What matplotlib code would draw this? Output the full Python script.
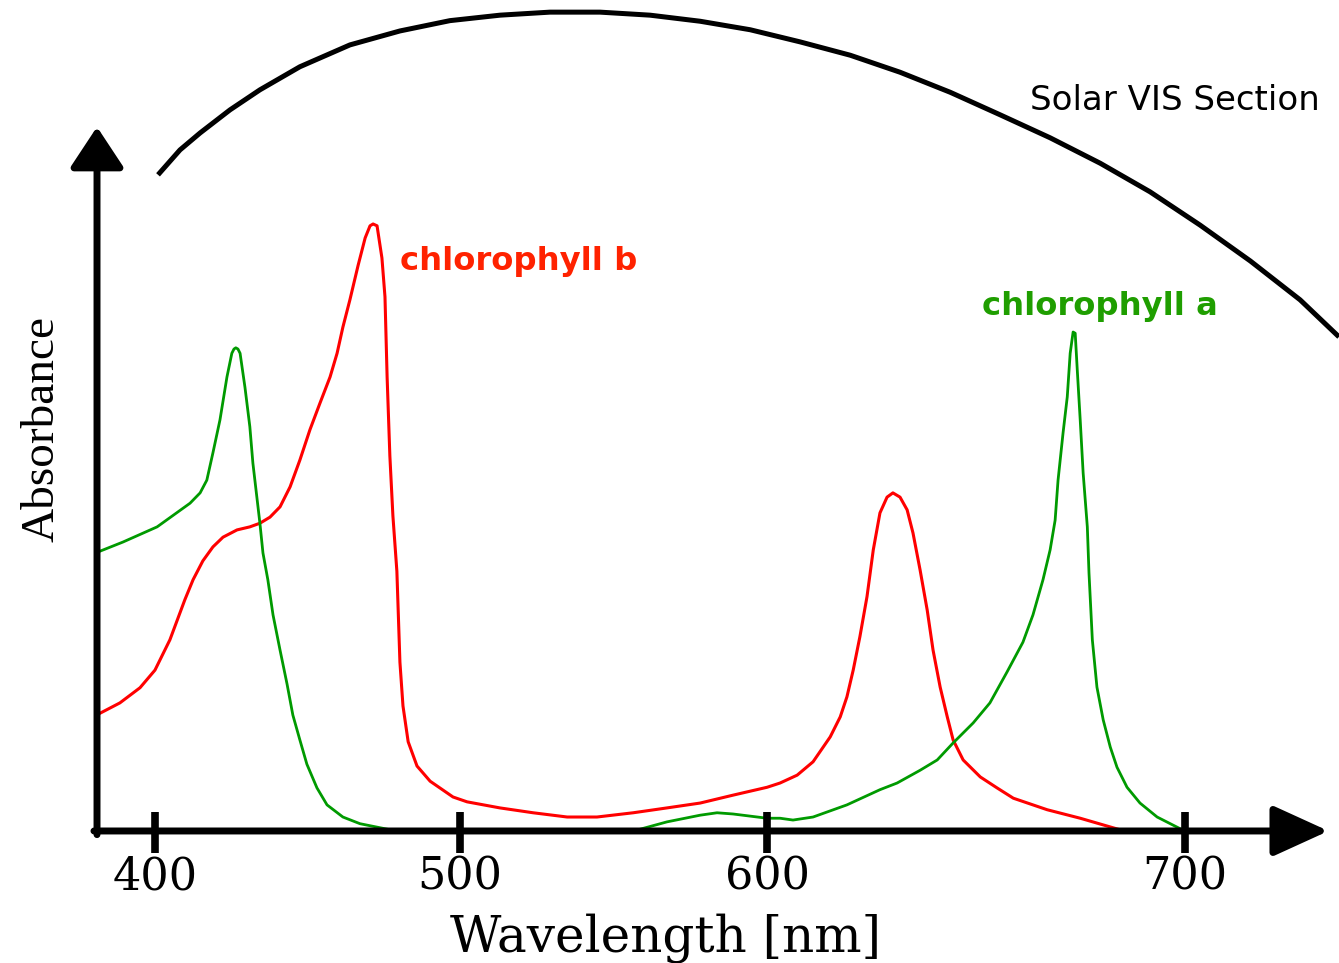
import numpy as np
import matplotlib
matplotlib.use('Agg')
import matplotlib.pyplot as plt

# wavelength in nm, absorbance relative to the chlorophyll b blue peak (=100)
chl_a_blue_wl = [382.0, 389.5, 400.7, 411.5, 414.8, 417.0, 419.0, 421.3, 423.6, 425.2,
                 425.9, 426.5, 427.2, 427.9, 429.5, 431.1, 432.1, 433.4, 434.4, 435.4,
                 437.0, 438.7, 441.0, 443.3, 445.2, 447.5, 449.8, 453.1, 456.4, 461.6,
                 467.2, 476.1]
chl_a_blue_abs = [46.1, 47.6, 50.1, 54.0, 55.7, 57.8, 62.3, 67.7, 74.8, 78.7,
                  79.4, 79.6, 79.4, 78.7, 73.1, 66.6, 60.6, 55.0, 50.7, 45.8,
                  41.4, 35.6, 29.8, 24.2, 19.1, 15.0, 11.0, 7.1, 4.3, 2.3,
                  1.2, 0.3]

chl_a_red_wl = [558.0, 567.4, 578.2, 583.7, 588.9, 600.0, 603.1, 606.2, 611.0, 619.1,
                627.0, 631.1, 636.6, 640.7, 644.5, 649.3, 653.3, 657.4, 661.2, 663.6,
                666.0, 667.7, 668.9, 669.6, 670.8, 671.8, 672.5, 673.2, 673.7, 674.2,
                674.9, 675.6, 676.6, 677.0, 677.8, 678.9, 680.4, 682.1, 683.7, 686.1,
                689.2, 693.3, 699.3]
chl_a_red_abs = [0.2, 1.5, 2.6, 3.0, 2.8, 2.1, 2.1, 1.8, 2.3, 4.3,
                 6.8, 7.9, 10.0, 11.7, 14.5, 17.8, 21.1, 26.2, 31.1, 35.6,
                 41.4, 46.3, 51.2, 57.8, 65.6, 71.5, 78.7, 82.2, 82.0, 75.9,
                 67.7, 59.0, 50.1, 42.5, 31.5, 23.7, 18.3, 13.8, 10.5, 7.2,
                 4.6, 2.3, 0.2]

chl_b_wl = [382.0, 388.5, 395.1, 400.0, 404.9, 409.8, 412.5, 415.7, 419.0, 422.3,
            426.9, 431.1, 434.4, 437.7, 441.0, 444.3, 447.5, 450.8, 454.1, 457.4,
            459.7, 461.6, 463.9, 466.6, 468.9, 470.5, 471.5, 472.8, 474.4, 475.4,
            476.1, 477.0, 478.0, 479.3, 480.3, 481.3, 483.0, 485.9, 490.2, 497.7,
            502.3, 513.0, 523.8, 534.9, 544.6, 556.4, 567.4, 578.2, 588.9, 600.0,
            603.1, 607.2, 611.0, 615.1, 617.5, 619.1, 620.6, 622.2, 623.9, 625.4,
            627.0, 628.7, 630.1, 631.8, 633.5, 634.9, 636.6, 638.3, 639.7, 641.4,
            643.1, 644.5, 646.9, 651.0, 655.0, 658.9, 667.0, 674.9, 684.4]
chl_b_abs = [19.4, 21.1, 23.6, 26.5, 31.5, 38.1, 41.4, 44.5, 46.8, 48.4,
             49.6, 50.1, 50.7, 51.7, 53.4, 56.7, 61.1, 66.1, 70.5, 74.8,
             78.7, 83.0, 87.5, 93.2, 97.7, 99.7, 100.0, 99.7, 94.4, 88.0,
             74.8, 61.8, 51.9, 42.8, 27.8, 20.6, 14.7, 10.7, 8.2, 5.6,
             4.8, 3.8, 3.0, 2.3, 2.3, 3.0, 3.8, 4.6, 5.9, 7.2,
             7.9, 9.2, 11.4, 15.5, 18.8, 22.1, 26.5, 32.0, 38.6, 46.3,
             52.4, 55.0, 55.7, 55.0, 52.9, 49.1, 43.0, 36.4, 29.8, 23.7,
             18.8, 15.0, 11.7, 8.9, 7.1, 5.4, 3.5, 2.1, 0.2]

# sketch of the solar spectrum, same vertical units
solar_wl = [401.0, 408.2, 414.8, 424.6, 434.4, 447.5, 463.9, 480.3, 496.7, 513.0,
            529.3, 545.6, 561.9, 578.2, 594.5, 607.9, 619.9, 631.8, 643.8, 655.7,
            667.7, 679.7, 691.6, 703.6, 715.6, 727.5, 736.8]
solar_level = [108.1, 112.2, 115.0, 118.8, 122.1, 125.9, 129.5, 131.8, 133.5, 134.4,
               134.9, 134.9, 134.4, 133.4, 132.0, 130.0, 127.8, 125.0, 121.7, 118.0,
               114.2, 110.0, 105.3, 99.8, 93.9, 87.5, 81.4]

tick_wl = [400, 500, 600, 700]

# the hand drawn axis is not linear, 600-700 is wider than the rest
scale_wl = [300, 400, 500, 600, 700, 800]
scale_pos = [-305, 0, 305, 612, 1030, 1448]


def fwd(x):
    return np.interp(x, scale_wl, scale_pos)


def inv(u):
    return np.interp(u, scale_pos, scale_wl)


RED = '#ff0000'
GREEN = '#009a00'

fig = plt.figure(figsize=(13.39, 9.63), dpi=100)
ax = fig.add_axes([0, 0, 1, 1])
ax.set_xscale('function', functions=(fwd, inv))
ax.set_xlim(349.2, 736.8)
ax.set_ylim(-21.75, 136.9)
ax.axis('off')

# curves
ax.plot(chl_b_wl, chl_b_abs, color=RED, lw=2.2, solid_joinstyle='round')
ax.plot(chl_a_blue_wl, chl_a_blue_abs, color=GREEN, lw=2.0, solid_joinstyle='round')
ax.plot(chl_a_red_wl, chl_a_red_abs, color=GREEN, lw=2.0, solid_joinstyle='round')
ax.plot(solar_wl, solar_level, color='black', lw=3.6, clip_on=False,
        solid_capstyle='butt', solid_joinstyle='round')

# axes with arrow heads
ax.annotate('', xy=(381.0, 116.0), xytext=(381.0, -0.6),
            arrowprops=dict(arrowstyle='-|>,head_length=2.5,head_width=1.65',
                            mutation_scale=10, lw=5, color='black',
                            shrinkA=0, shrinkB=0))
ax.annotate('', xy=(734.3, 0), xytext=(380.0, 0),
            arrowprops=dict(arrowstyle='-|>,head_length=3.4,head_width=1.55',
                            mutation_scale=10, lw=5, color='black',
                            shrinkA=0, shrinkB=0))

# ticks and tick labels
for wl in tick_wl:
    ax.plot([wl, wl], [-3.6, 3.1], color='black', lw=5.5, solid_capstyle='butt')
    ax.text(wl, -9.7, str(wl), ha='center', va='baseline',
            family='DejaVu Serif', fontsize=32)

ax.text(566.8, -19.9, 'Wavelength [nm]', ha='center', va='baseline',
        family='DejaVu Serif', fontsize=36)
ax.text(363.0, 66.2, 'Absorbance', ha='center', va='center', rotation=90,
        family='Liberation Serif', fontsize=34)

ax.text(662.9, 118.8, 'Solar VIS Section', ha='left', va='baseline',
        family='DejaVu Sans', fontsize=24.5)
ax.text(480.3, 92.4, 'chlorophyll b', ha='left', va='baseline',
        family='DejaVu Sans', fontweight='bold', fontsize=23.2, color='#ff2200')
ax.text(651.4, 85.0, 'chlorophyll a', ha='left', va='baseline',
        family='DejaVu Sans', fontweight='bold', fontsize=23.2, color='#1f9e00')

fig.savefig('out.png', dpi=100)
plt.close(fig)
